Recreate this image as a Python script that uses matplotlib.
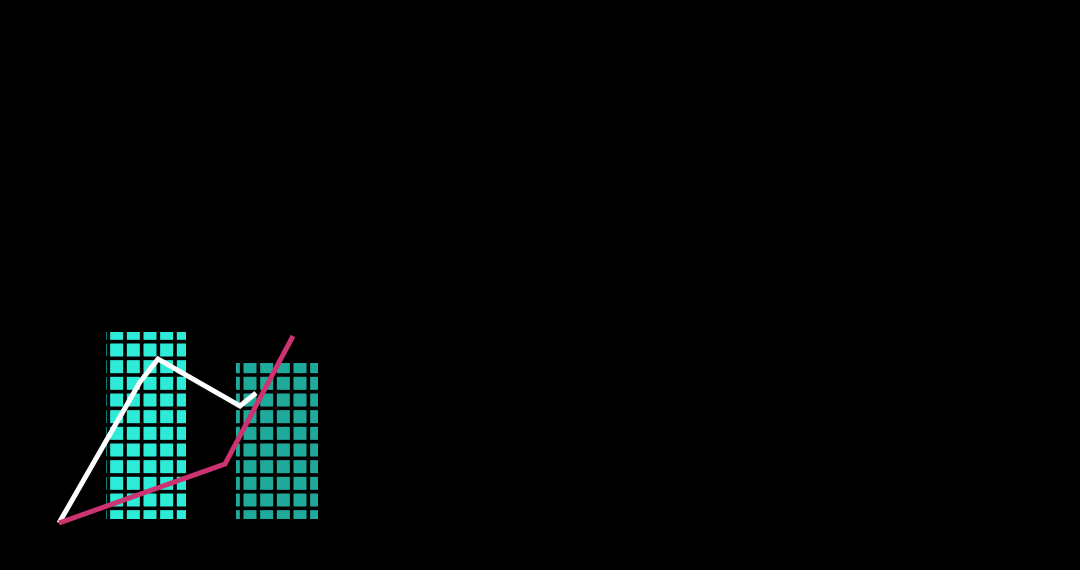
import matplotlib
matplotlib.use("Agg")
import matplotlib.pyplot as plt

# ---------------------------- Data ---------------------------- #

# Bars (centre, width, height) in chart units
bar_x = [4.8, 11.35]
bar_width = [4.0, 4.1]
bar_height = [9.35, 7.8]
bar_colors = ["#2EEBD8", "#1FA99A"]

# White line
white_x = [0.45, 4.5, 5.4, 9.5, 10.3]
white_y = [-0.2, 6.85, 8.0, 5.65, 6.3]

# Magenta line
pink_x = [0.45, 8.75, 12.15]
pink_y = [-0.2, 2.75, 9.15]

# ---------------------------- Plot ---------------------------- #

plt.rcParams["hatch.linewidth"] = 2.6

fig = plt.figure(figsize=(10.8, 5.7), dpi=100)
fig.patch.set_facecolor("black")

ax = fig.add_axes([50 / 1080, 40 / 570, 280 / 1080, 211 / 570])
ax.set_facecolor("black")

ax.bar(bar_x, bar_height, width=bar_width, color=bar_colors,
       edgecolor="black", linewidth=0, hatch="+")

ax.plot(white_x, white_y, color="white", linewidth=3.6,
        solid_joinstyle="miter", solid_capstyle="butt")
ax.plot(pink_x, pink_y, color="#CC3370", linewidth=3.6,
        solid_joinstyle="miter", solid_capstyle="butt")

ax.set_xlim(0, 14)
ax.set_ylim(-0.55, 10)
ax.axis("off")

fig.savefig("out.png", dpi=100, facecolor="black")
